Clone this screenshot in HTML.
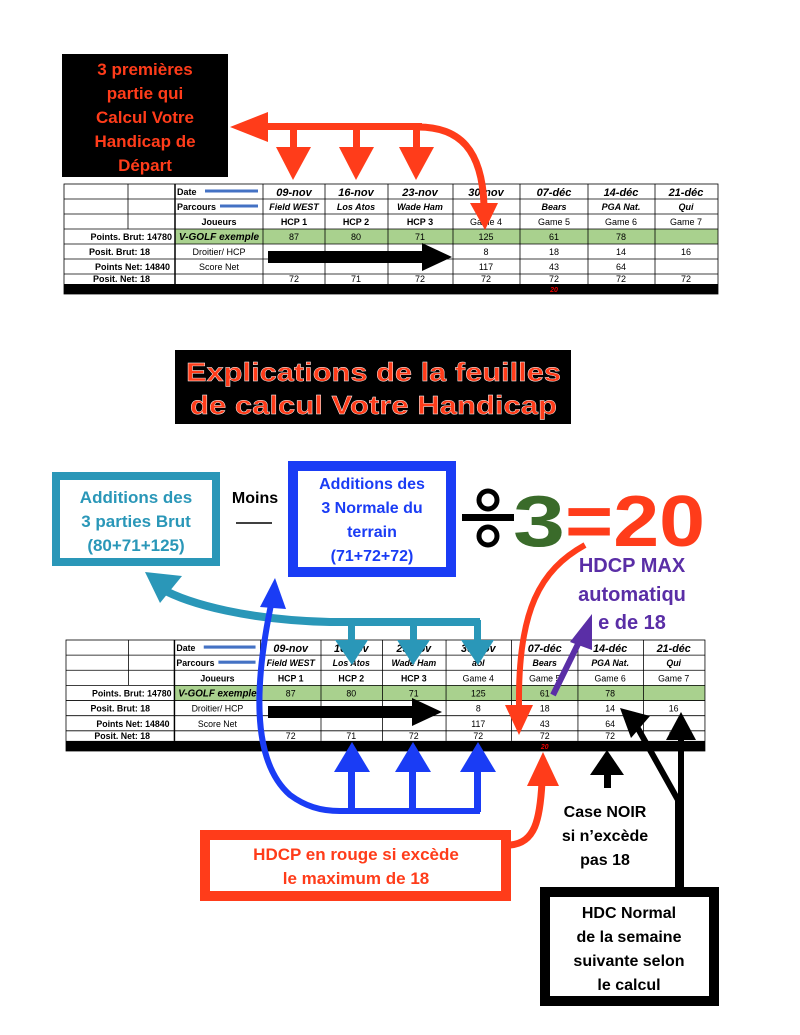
<!DOCTYPE html>
<html><head><meta charset="utf-8"><style>
html,body{margin:0;padding:0;background:#fff;}
svg{display:block;font-family:"Liberation Sans",Arial,sans-serif;}
</style></head><body>
<svg width="800" height="1035" viewBox="0 0 800 1035" xmlns="http://www.w3.org/2000/svg">

<!-- TOP TABLE -->
<g id="t1">
<rect x="175" y="229" width="543" height="15" fill="#a9d18e"/>
<rect x="64" y="284" width="654" height="10" fill="#000"/>
<g stroke="#000" stroke-width="0.8" fill="none">
<rect x="64" y="184" width="654" height="110"/>
<line x1="64" y1="199" x2="718" y2="199"/><line x1="64" y1="214" x2="718" y2="214"/><line x1="64" y1="229" x2="718" y2="229"/><line x1="64" y1="244" x2="718" y2="244"/><line x1="64" y1="259" x2="718" y2="259"/><line x1="64" y1="274" x2="718" y2="274"/>
<line x1="128" y1="184" x2="128" y2="229"/>
<line x1="175" y1="184" x2="175" y2="284" stroke-width="1.5"/>
<line x1="263" y1="184" x2="263" y2="284"/><line x1="325" y1="184" x2="325" y2="284"/><line x1="388" y1="184" x2="388" y2="284"/><line x1="453" y1="184" x2="453" y2="284"/><line x1="520" y1="184" x2="520" y2="284"/><line x1="588" y1="184" x2="588" y2="284"/><line x1="655" y1="184" x2="655" y2="284"/>
</g>
<g stroke="#4472c4" stroke-width="3"><line x1="205" y1="191" x2="258" y2="191"/><line x1="220" y1="206" x2="258" y2="206"/></g>
<g font-size="9" fill="#000">
<text x="177" y="195" font-weight="bold">Date</text>
<text x="177" y="210" font-weight="bold">Parcours</text>
<text x="219" y="225" font-weight="bold" text-anchor="middle">Joueurs</text>
<text x="219" y="240" font-weight="bold" font-style="italic" text-anchor="middle" font-size="10">V-GOLF exemple</text>
<text x="219" y="255" text-anchor="middle">Droitier/ HCP</text>
<text x="219" y="270" text-anchor="middle">Score Net</text>
<g font-weight="bold" text-anchor="end"><text x="172" y="240">Points. Brut:  14780</text><text x="150" y="255">Posit. Brut: 18</text><text x="170" y="270">Points Net: 14840</text><text x="150" y="282">Posit. Net: 18</text></g>
<g font-size="11" font-weight="bold" font-style="italic" text-anchor="middle"><text x="294" y="196">09-nov</text><text x="356" y="196">16-nov</text><text x="420" y="196">23-nov</text><text x="486" y="196">30-nov</text><text x="554" y="196">07-déc</text><text x="621" y="196">14-déc</text><text x="686" y="196">21-déc</text></g>
<g font-weight="bold" font-style="italic" text-anchor="middle"><text x="294" y="210">Field WEST</text><text x="356" y="210">Los Atos</text><text x="420" y="210">Wade Ham</text><text x="486" y="210">aol</text><text x="554" y="210">Bears</text><text x="621" y="210">PGA Nat.</text><text x="686" y="210">Qui</text></g>
<g text-anchor="middle"><text x="294" y="225" font-weight="bold">HCP 1</text><text x="356" y="225" font-weight="bold">HCP 2</text><text x="420" y="225" font-weight="bold">HCP 3</text><text x="486" y="225">Game 4</text><text x="554" y="225">Game 5</text><text x="621" y="225">Game 6</text><text x="686" y="225">Game 7</text></g>
<g text-anchor="middle"><text x="294" y="240">87</text><text x="356" y="240">80</text><text x="420" y="240">71</text><text x="486" y="240">125</text><text x="554" y="240">61</text><text x="621" y="240">78</text></g>
<g text-anchor="middle"><text x="486" y="255">8</text><text x="554" y="255">18</text><text x="621" y="255">14</text><text x="686" y="255">16</text></g>
<g text-anchor="middle"><text x="486" y="270">117</text><text x="554" y="270">43</text><text x="621" y="270">64</text></g>
<g text-anchor="middle"><text x="294" y="282">72</text><text x="356" y="282">71</text><text x="420" y="282">72</text><text x="486" y="282">72</text><text x="554" y="282">72</text><text x="621" y="282">72</text><text x="686" y="282">72</text></g>
<text x="554" y="292" font-size="7" fill="#e00" font-weight="bold" font-style="italic" text-anchor="middle">20</text>
</g>
</g>
<polygon points="268,251 422,251 422,243 452,257 422,271 422,263 268,263" fill="#000"/>

<!-- top-left black box -->
<rect x="62" y="54" width="166" height="123" fill="#000"/>
<g fill="#ff3c1a" font-size="17" font-weight="bold" text-anchor="middle">
<text x="145" y="75">3 premières</text><text x="145" y="99">partie qui</text><text x="145" y="123">Calcul Votre</text><text x="145" y="147">Handicap de</text><text x="145" y="171">Départ</text>
</g>
<g fill="#ff3c1a" stroke="none">
<rect x="262" y="123" width="160" height="7"/>
<polygon points="230,127 268,112 268,142"/>
<rect x="290" y="127" width="7" height="22"/><polygon points="276,147 311,147 293,180"/>
<rect x="353" y="127" width="7" height="22"/><polygon points="339,147 374,147 356,180"/>
<rect x="413" y="127" width="7" height="22"/><polygon points="399,147 434,147 416,180"/>
</g>
<path d="M418,127 C460,127 482,150 484,205" stroke="#ff3c1a" stroke-width="7" fill="none"/>
<polygon points="470,203 498,203 485,230" fill="#ff3c1a"/>

<!-- title -->
<rect x="175" y="350" width="396" height="74" fill="#000"/>
<g fill="#ff3c1a" font-size="26" font-weight="bold" stroke="#fff" stroke-width="0.4">
<text x="186" y="381" textLength="375" lengthAdjust="spacingAndGlyphs">Explications de la feuilles</text>
<text x="190" y="414" textLength="367" lengthAdjust="spacingAndGlyphs">de calcul Votre Handicap</text>
</g>

<!-- BOTTOM TABLE -->
<g transform="translate(66,640) scale(0.977,1.009) translate(-64,-184)">
<rect x="175" y="229" width="543" height="15" fill="#a9d18e"/>
<rect x="64" y="284" width="654" height="10" fill="#000"/>
<g stroke="#000" stroke-width="0.8" fill="none">
<rect x="64" y="184" width="654" height="110"/>
<line x1="64" y1="199" x2="718" y2="199"/><line x1="64" y1="214" x2="718" y2="214"/><line x1="64" y1="229" x2="718" y2="229"/><line x1="64" y1="244" x2="718" y2="244"/><line x1="64" y1="259" x2="718" y2="259"/><line x1="64" y1="274" x2="718" y2="274"/>
<line x1="128" y1="184" x2="128" y2="229"/>
<line x1="175" y1="184" x2="175" y2="284" stroke-width="1.5"/>
<line x1="263" y1="184" x2="263" y2="284"/><line x1="325" y1="184" x2="325" y2="284"/><line x1="388" y1="184" x2="388" y2="284"/><line x1="453" y1="184" x2="453" y2="284"/><line x1="520" y1="184" x2="520" y2="284"/><line x1="588" y1="184" x2="588" y2="284"/><line x1="655" y1="184" x2="655" y2="284"/>
</g>
<g stroke="#4472c4" stroke-width="3"><line x1="205" y1="191" x2="258" y2="191"/><line x1="220" y1="206" x2="258" y2="206"/></g>
<g font-size="9" fill="#000">
<text x="177" y="195" font-weight="bold">Date</text>
<text x="177" y="210" font-weight="bold">Parcours</text>
<text x="219" y="225" font-weight="bold" text-anchor="middle">Joueurs</text>
<text x="219" y="240" font-weight="bold" font-style="italic" text-anchor="middle" font-size="10">V-GOLF exemple</text>
<text x="219" y="255" text-anchor="middle">Droitier/ HCP</text>
<text x="219" y="270" text-anchor="middle">Score Net</text>
<g font-weight="bold" text-anchor="end"><text x="172" y="240">Points. Brut:  14780</text><text x="150" y="255">Posit. Brut: 18</text><text x="170" y="270">Points Net: 14840</text><text x="150" y="282">Posit. Net: 18</text></g>
<g font-size="11" font-weight="bold" font-style="italic" text-anchor="middle"><text x="294" y="196">09-nov</text><text x="356" y="196">16-nov</text><text x="420" y="196">23-nov</text><text x="486" y="196">30-nov</text><text x="554" y="196">07-déc</text><text x="621" y="196">14-déc</text><text x="686" y="196">21-déc</text></g>
<g font-weight="bold" font-style="italic" text-anchor="middle"><text x="294" y="210">Field WEST</text><text x="356" y="210">Los Atos</text><text x="420" y="210">Wade Ham</text><text x="486" y="210">aol</text><text x="554" y="210">Bears</text><text x="621" y="210">PGA Nat.</text><text x="686" y="210">Qui</text></g>
<g text-anchor="middle"><text x="294" y="225" font-weight="bold">HCP 1</text><text x="356" y="225" font-weight="bold">HCP 2</text><text x="420" y="225" font-weight="bold">HCP 3</text><text x="486" y="225">Game 4</text><text x="554" y="225">Game 5</text><text x="621" y="225">Game 6</text><text x="686" y="225">Game 7</text></g>
<g text-anchor="middle"><text x="294" y="240">87</text><text x="356" y="240">80</text><text x="420" y="240">71</text><text x="486" y="240">125</text><text x="554" y="240">61</text><text x="621" y="240">78</text></g>
<g text-anchor="middle"><text x="486" y="255">8</text><text x="554" y="255">18</text><text x="621" y="255">14</text><text x="686" y="255">16</text></g>
<g text-anchor="middle"><text x="486" y="270">117</text><text x="554" y="270">43</text><text x="621" y="270">64</text></g>
<g text-anchor="middle"><text x="294" y="282">72</text><text x="356" y="282">71</text><text x="420" y="282">72</text><text x="486" y="282">72</text><text x="554" y="282">72</text><text x="621" y="282">72</text><text x="686" y="282">72</text></g>
<text x="554" y="292" font-size="7" fill="#e00" font-weight="bold" font-style="italic" text-anchor="middle">20</text>
</g>
</g>
<polygon points="268,706 412,706 412,698 442,712 412,726 412,718 268,718" fill="#000"/>

<!-- teal box -->
<rect x="56" y="476" width="160" height="86" fill="#fff" stroke="#2a97b8" stroke-width="8"/>
<g fill="#2a97b8" font-size="17" font-weight="bold" text-anchor="middle">
<text x="136" y="503">Additions des</text><text x="136" y="527">3 parties Brut</text><text x="136" y="551">(80+71+125)</text>
</g>
<text x="255" y="503" font-size="16" font-weight="bold" text-anchor="middle">Moins</text>
<line x1="236" y1="523" x2="272" y2="523" stroke="#000" stroke-width="1.5"/>
<!-- blue box -->
<rect x="293" y="466" width="158" height="106" fill="#fff" stroke="#1a3cf5" stroke-width="10"/>
<g fill="#1a3cf5" font-size="16" font-weight="bold" text-anchor="middle">
<text x="372" y="489">Additions des</text><text x="372" y="513">3 Normale du</text><text x="372" y="537">terrain</text><text x="372" y="561">(71+72+72)</text>
</g>
<circle cx="488" cy="500" r="9" fill="none" stroke="#000" stroke-width="5"/>
<rect x="462" y="514" width="52" height="7" fill="#000"/>
<circle cx="488" cy="536" r="9" fill="none" stroke="#000" stroke-width="5"/>
<text x="513" y="546" font-size="72" font-weight="bold" fill="#3a6b2a" textLength="52" lengthAdjust="spacingAndGlyphs">3</text>
<text x="565" y="546" font-size="72" font-weight="bold" fill="#ff3c1a" textLength="140" lengthAdjust="spacingAndGlyphs">=20</text>
<g fill="#5a2ea6" font-size="20" font-weight="bold" text-anchor="middle">
<text x="632" y="572">HDCP MAX</text><text x="632" y="601">automatiqu</text><text x="632" y="629">e de 18</text>
</g>

<!-- teal arrows -->
<path d="M480,622 L330,622 C250,620 190,605 160,588" stroke="#2a97b8" stroke-width="8" fill="none"/>
<polygon points="145,572 182,576 160,603" fill="#2a97b8"/>
<g fill="#2a97b8">
<rect x="348" y="620" width="7" height="24"/><polygon points="335,640 368,640 352,665"/>
<rect x="410" y="620" width="7" height="24"/><polygon points="397,640 430,640 413,665"/>
<rect x="474" y="620" width="7" height="24"/><polygon points="461,640 494,640 478,665"/>
</g>
<!-- blue arrows -->
<path d="M272,600 C255,680 250,760 290,795 C305,806 320,811 340,811 L480,811" stroke="#1a3cf5" stroke-width="6" fill="none"/>
<polygon points="275,578 260,607 286,609" fill="#1a3cf5"/>
<g fill="#1a3cf5">
<rect x="348" y="768" width="7" height="44"/><polygon points="334,772 370,772 352,742"/>
<rect x="409" y="768" width="7" height="44"/><polygon points="395,772 431,772 413,742"/>
<rect x="474" y="768" width="7" height="44"/><polygon points="460,772 496,772 478,742"/>
</g>
<!-- red arrows -->
<path d="M585,545 C540,570 518,610 519,705" stroke="#ff3c1a" stroke-width="6" fill="none"/>
<polygon points="505,705 533,705 519,735" fill="#ff3c1a"/>
<path d="M510,845 C535,843 540,820 542,782" stroke="#ff3c1a" stroke-width="7" fill="none"/>
<polygon points="527,786 559,786 543,752" fill="#ff3c1a"/>
<line x1="553" y1="695" x2="580" y2="640" stroke="#5a2ea6" stroke-width="6"/>
<polygon points="570,642 592,650 592,614" fill="#5a2ea6"/>
<!-- red box -->
<rect x="205" y="835" width="301" height="61" fill="#fff" stroke="#ff3c1a" stroke-width="10"/>
<g fill="#ff3c1a" font-size="17" font-weight="bold" text-anchor="middle">
<text x="356" y="860">HDCP en rouge si excède</text><text x="356" y="884">le maximum de 18</text>
</g>
<!-- black arrows -->
<rect x="604" y="772" width="7" height="16" fill="#000"/>
<polygon points="590,775 624,775 607,750" fill="#000"/>
<g font-size="16" font-weight="bold" text-anchor="middle">
<text x="605" y="817">Case NOIR</text><text x="605" y="841">si n’excède</text><text x="605" y="865">pas 18</text>
</g>
<path d="M636,725 L678,800 L678,890" stroke="#000" stroke-width="6" fill="none"/>
<polygon points="620,708 650,716 631,738" fill="#000"/>
<line x1="681" y1="735" x2="681" y2="890" stroke="#000" stroke-width="6"/>
<polygon points="666,740 696,740 681,712" fill="#000"/>
<rect x="545" y="892" width="169" height="109" fill="#fff" stroke="#000" stroke-width="10"/>
<g font-size="16" font-weight="bold" text-anchor="middle">
<text x="629" y="918">HDC Normal</text><text x="629" y="942">de la semaine</text><text x="629" y="966">suivante selon</text><text x="629" y="990">le calcul</text>
</g>
</svg>
</body></html>
